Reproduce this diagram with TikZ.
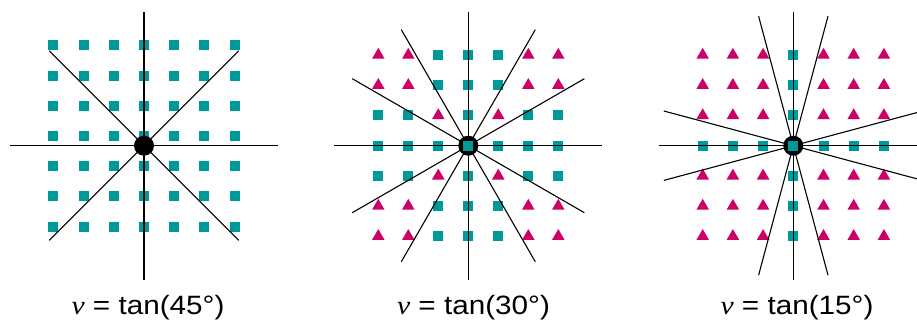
\documentclass[tikz,border=0pt]{standalone}
\usepackage{fontspec}
\setmainfont{Liberation Sans}[FakeStretch=1.12]
\newfontfamily\vfont{Liberation Serif}[FakeStretch=1.12]
\usetikzlibrary{shapes.geometric}
\definecolor{gridteal}{HTML}{009999}
\definecolor{gridpink}{HTML}{CC0066}

\begin{document}
\begin{tikzpicture}[x=1pt, y=-1pt]
  \tikzset{sq/.style={rectangle, fill=gridteal, inner sep=0pt, minimum size=10pt},
    tri/.style={regular polygon, regular polygon sides=3, fill=gridpink, inner sep=0pt, minimum size=14.5pt},
    ray/.style={line width=1.1pt, black},
    hub/.style={circle, fill=black, inner sep=0pt, minimum size=20pt},
    lbl/.style={anchor=base, inner sep=0pt, font=\fontsize{26.5}{30}\selectfont}}
  \useasboundingbox (0,0) rectangle (917,320);
  \coordinate (c1) at (144,145.7);
  \coordinate (c2) at (468.3,145.7);
  \coordinate (c3) at (793.3,145.7);
  % left panel: every point a square
  \foreach \c in {1,...,7} \foreach \r in {1,...,7}
    \node[sq] (a\c\r) at (144+30.2*\c-120.8, 136+30.2*\r-120.8) {};
  % middle panel
  \foreach \c in {1,...,7} \foreach \r in {1,...,7} {
    \pgfmathtruncatemacro\dc{abs(\c-4)}
    \pgfmathtruncatemacro\dr{abs(\r-4)}
    \pgfmathtruncatemacro\istri{(\dc>=2 && \dr>=2) || (\dc==1 && \dr==1)}
    \ifnum\istri=1
      \node[tri] (b\c\r) at (468.3+30*\c-120, 145.7+30.2*\r-120.8) {};
    \else
      \node[sq] (b\c\r) at (468.3+30*\c-120, 145.7+30.2*\r-120.8) {};
    \fi
  }
  % right panel
  \foreach \c in {1,...,7} \foreach \r in {1,...,7} {
    \pgfmathtruncatemacro\istri{(\c!=4) && (\r!=4)}
    \ifnum\istri=1
      \node[tri] (d\c\r) at (793.3+30.2*\c-120.8, 145.7+30.2*\r-120.8) {};
    \else
      \node[sq] (d\c\r) at (793.3+30.2*\c-120.8, 145.7+30.2*\r-120.8) {};
    \fi
  }
  % rays
  \foreach \a in {0,45,...,315} \draw[ray] (c1) -- ++(\a:134);
  \foreach \a in {0,30,...,330} \draw[ray] (c2) -- ++(\a:134);
  \foreach \a in {0,15,75,90,105,165,180,195,255,270,285,345} \draw[ray] (c3) -- ++(\a:134);
  % hubs
  \node[hub] (h1) at (c1) {};
  \node[hub] (h2) at (c2) {};
  \node[sq] (s2) at (c2) {};
  \node[hub] (h3) at (c3) {};
  \node[sq] (s3) at (c3) {};
  % captions
  \node[lbl] (t1) at (148,314) {{\vfont\itshape v} = tan(45°)};
  \node[lbl] (t2) at (473.5,314) {{\vfont\itshape v} = tan(30°)};
  \node[lbl] (t3) at (797,314) {{\vfont\itshape v} = tan(15°)};
\end{tikzpicture}
\end{document}
